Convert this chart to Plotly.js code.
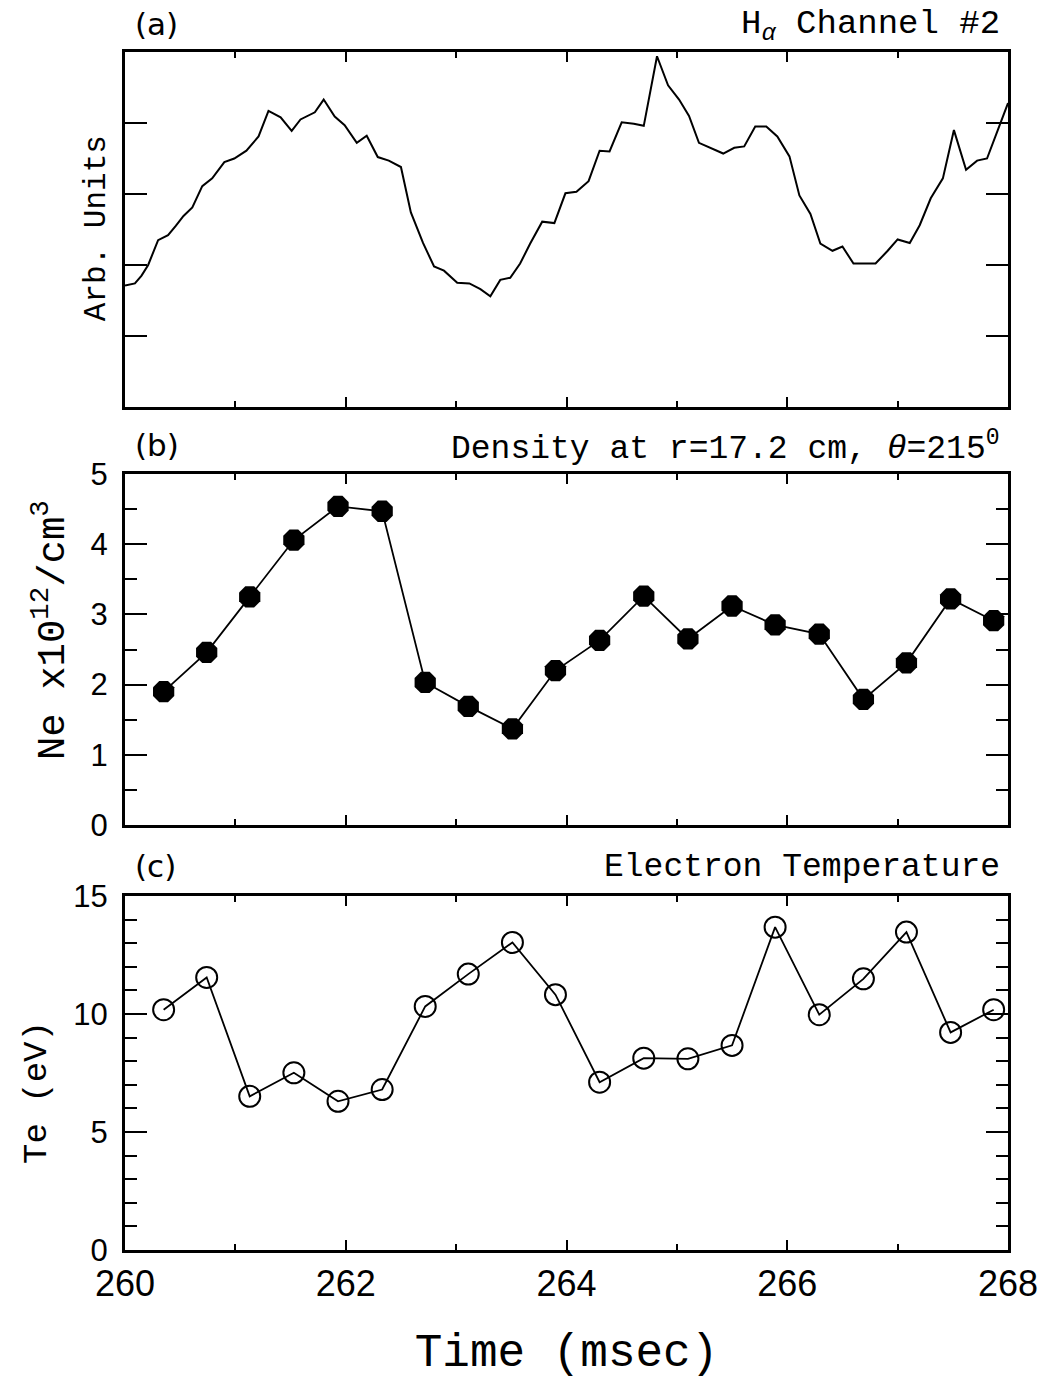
<!DOCTYPE html>
<html>
<head>
<meta charset="utf-8">
<script src="https://cdn.plot.ly/plotly-3.0.1.min.js"></script>
<style>html,body{margin:0;padding:0;background:#fff;}#chart{width:1056px;height:1380px;}</style>
</head>
<body>
<div id="chart"></div>
<script>
// Panel (a): H-alpha channel #2 (arbitrary units)
const timeA = [260.00, 260.09, 260.15, 260.21, 260.30, 260.39, 260.46, 260.53, 260.61, 260.70,
  260.79, 260.90, 260.99, 261.10, 261.21, 261.30, 261.41, 261.51, 261.59, 261.72,
  261.80, 261.90, 261.99, 262.10, 262.19, 262.29, 262.39, 262.50, 262.59, 262.70,
  262.80, 262.89, 263.01, 263.12, 263.22, 263.31, 263.40, 263.49, 263.58, 263.67,
  263.78, 263.89, 263.99, 264.09, 264.20, 264.30, 264.39, 264.50, 264.61, 264.70,
  264.82, 264.92, 265.02, 265.11, 265.20, 265.30, 265.42, 265.52, 265.61, 265.71,
  265.81, 265.91, 266.02, 266.11, 266.21, 266.30, 266.41, 266.50, 266.60, 266.70,
  266.80, 266.91, 267.00, 267.11, 267.20, 267.30, 267.41, 267.51, 267.62, 267.72,
  267.81, 267.91, 268.00];
const halpha = [1.71, 1.74, 1.85, 2.00, 2.35, 2.42, 2.55, 2.69, 2.81, 3.11,
  3.22, 3.45, 3.50, 3.61, 3.81, 4.17, 4.08, 3.89, 4.05, 4.15,
  4.33, 4.09, 3.97, 3.72, 3.82, 3.52, 3.47, 3.38, 2.74, 2.31,
  1.98, 1.92, 1.75, 1.74, 1.66, 1.56, 1.79, 1.82, 2.02, 2.30,
  2.61, 2.59, 3.01, 3.03, 3.18, 3.61, 3.60, 4.01, 3.99, 3.96,
  4.94, 4.53, 4.33, 4.10, 3.72, 3.65, 3.57, 3.65, 3.67, 3.95,
  3.95, 3.81, 3.53, 2.98, 2.72, 2.30, 2.20, 2.26, 2.02, 2.02,
  2.02, 2.20, 2.36, 2.31, 2.56, 2.94, 3.22, 3.90, 3.34, 3.47,
  3.50, 3.91, 4.28];

// Panels (b) and (c): sample times (msec)
const timeS = [260.35, 260.74, 261.13, 261.53, 261.93, 262.33, 262.72, 263.11, 263.51, 263.90,
  264.30, 264.70, 265.10, 265.50, 265.89, 266.29, 266.69, 267.08, 267.48, 267.87];
// Panel (b): density Ne (x10^12 /cm^3)
const density = [1.90, 2.46, 3.25, 4.06, 4.54, 4.47, 2.03, 1.69, 1.37, 2.20,
  2.63, 3.26, 2.65, 3.12, 2.85, 2.72, 1.79, 2.31, 3.22, 2.91];
// Panel (c): electron temperature Te (eV)
const tempE = [10.18, 11.55, 6.51, 7.51, 6.30, 6.80, 10.32, 11.69, 13.03, 10.82,
  7.11, 8.13, 8.10, 8.67, 13.68, 9.97, 11.49, 13.47, 9.22, 10.18];

const xTickVals = [260, 262, 264, 266, 268];
const yTicksB = [0, 1, 2, 3, 4, 5];
const yTicksC = [0, 5, 10, 15];

const MONO = 'Liberation Mono, Courier New, monospace';
const SANS = 'Liberation Sans, Arial, sans-serif';

const traces = [
  {x: timeA, y: halpha, xaxis: 'x', yaxis: 'y', type: 'scatter', mode: 'lines',
   line: {color: '#000', width: 2}, showlegend: false},
  {x: timeS, y: density, xaxis: 'x2', yaxis: 'y2', type: 'scatter', mode: 'lines+markers',
   line: {color: '#000', width: 1.8},
   marker: {symbol: 'octagon', size: 23, color: '#000', line: {width: 0}}, showlegend: false},
  {x: timeS, y: tempE, xaxis: 'x3', yaxis: 'y3', type: 'scatter', mode: 'lines+markers',
   line: {color: '#000', width: 1.8},
   marker: {symbol: 'circle-open', size: 21, color: '#000', line: {width: 2, color: '#000'}}, showlegend: false}
];

function xAxis(showLabels, anchor) {
  return {
    anchor: anchor, range: [260, 268], tickmode: 'array', tickvals: xTickVals,
    ticks: 'inside', ticklen: 10, tickwidth: 2, tickcolor: '#000',
    minor: {dtick: 1, tick0: 260, ticks: 'inside', ticklen: 6, tickwidth: 2, tickcolor: '#000', showgrid: false},
    showline: true, linewidth: 3, linecolor: '#000', mirror: 'ticks',
    showgrid: false, zeroline: false, showticklabels: showLabels,
    tickfont: {family: SANS, size: 36, color: '#000'}, ticklabelstandoff: 0
  };
}

const layout = {
  width: 1056, height: 1380,
  margin: {l: 125, r: 48, t: 52, b: 130},
  paper_bgcolor: '#fff', plot_bgcolor: '#fff',
  showlegend: false,
  xaxis: xAxis(false, 'y'),
  xaxis2: Object.assign(xAxis(false, 'y2'), {matches: 'x'}),
  xaxis3: Object.assign(xAxis(true, 'y3'), {matches: 'x',
    title: {text: 'Time (msec)', font: {family: MONO, size: 46, color: '#000'}, standoff: 32}}),
  yaxis: {
    domain: [0.7037, 1], range: [0, 5], dtick: 1, tick0: 0,
    ticks: 'inside', ticklen: 22, tickwidth: 2, tickcolor: '#000',
    showline: true, linewidth: 3, linecolor: '#000', mirror: 'ticks',
    showgrid: false, zeroline: false, showticklabels: false
  },
  yaxis2: {
    domain: [0.3548, 0.6477], range: [0, 5], tickmode: 'array', tickvals: yTicksB,
    ticks: 'inside', ticklen: 22, tickwidth: 2, tickcolor: '#000',
    minor: {dtick: 0.5, tick0: 0, ticks: 'inside', ticklen: 12, tickwidth: 2, tickcolor: '#000', showgrid: false},
    showline: true, linewidth: 3, linecolor: '#000', mirror: 'ticks',
    showgrid: false, zeroline: false,
    tickfont: {family: SANS, size: 31, color: '#000'}, ticklabelstandoff: 8
  },
  yaxis3: {
    domain: [0, 0.2955], range: [0, 15], tickmode: 'array', tickvals: yTicksC,
    ticks: 'inside', ticklen: 22, tickwidth: 2, tickcolor: '#000',
    minor: {dtick: 1, tick0: 0, ticks: 'inside', ticklen: 12, tickwidth: 2, tickcolor: '#000', showgrid: false},
    showline: true, linewidth: 3, linecolor: '#000', mirror: 'ticks',
    showgrid: false, zeroline: false,
    tickfont: {family: SANS, size: 31, color: '#000'}, ticklabelstandoff: 8
  },
  annotations: [
    // y-axis titles
    {text: 'Arb. Units', textangle: -90, xref: 'paper', yref: 'paper', x: -0.0328, y: 0.853,
     xanchor: 'center', yanchor: 'middle', showarrow: false, font: {family: MONO, size: 31, color: '#000'}},
    {text: 'Ne x10<sup>12</sup>/cm<sup>3</sup>', textangle: -90, xref: 'paper', yref: 'paper', x: -0.0849, y: 0.5175,
     xanchor: 'center', yanchor: 'middle', showarrow: false, font: {family: MONO, size: 39, color: '#000'}},
    {text: 'Te (eV)', textangle: -90, xref: 'paper', yref: 'paper', x: -0.0997, y: 0.1319,
     xanchor: 'center', yanchor: 'middle', showarrow: false, font: {family: MONO, size: 34, color: '#000'}},
    // panel labels and headings
    {text: '(a)', xref: 'paper', yref: 'paper', x: 0.009, y: 1.0234, xanchor: 'left', yanchor: 'middle',
     showarrow: false, font: {family: 'DejaVu Sans', size: 31, color: '#000'}},
    {text: 'H<sub><i>α</i></sub> Channel #2', xref: 'paper', yref: 'paper', x: 0.993, y: 1.0217,
     xanchor: 'right', yanchor: 'middle', showarrow: false, font: {family: MONO, size: 34, color: '#000'}},
    {text: '(b)', xref: 'paper', yref: 'paper', x: 0.009, y: 0.672, xanchor: 'left', yanchor: 'middle',
     showarrow: false, font: {family: 'DejaVu Sans', size: 31, color: '#000'}},
    {text: 'Density at r=17.2 cm, <i>θ</i>=215<sup>0</sup>', xref: 'paper', yref: 'paper', x: 0.993, y: 0.6703,
     xanchor: 'right', yanchor: 'middle', showarrow: false, font: {family: MONO, size: 33, color: '#000'}},
    {text: '(c)', xref: 'paper', yref: 'paper', x: 0.009, y: 0.3205, xanchor: 'left', yanchor: 'middle',
     showarrow: false, font: {family: 'DejaVu Sans', size: 31, color: '#000'}},
    {text: 'Electron Temperature', xref: 'paper', yref: 'paper', x: 0.993, y: 0.3189,
     xanchor: 'right', yanchor: 'middle', showarrow: false, font: {family: MONO, size: 33, color: '#000'}}
  ]
};

Plotly.newPlot('chart', traces, layout, {displayModeBar: false, staticPlot: true});
</script>
</body>
</html>
